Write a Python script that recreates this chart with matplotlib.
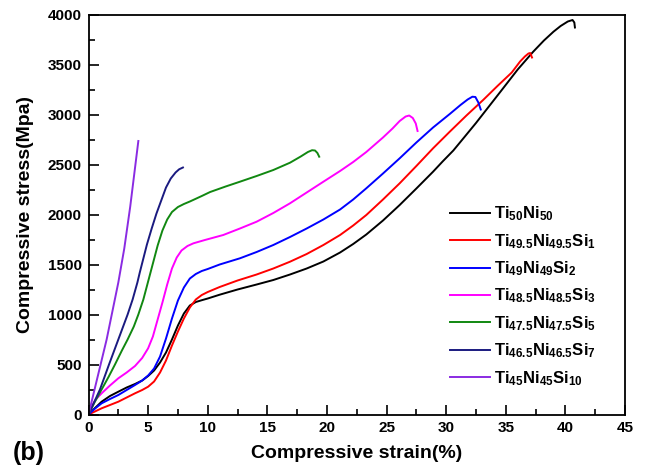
import numpy as np
import matplotlib
matplotlib.use('Agg')
import matplotlib.pyplot as plt
from matplotlib.ticker import MultipleLocator

plt.rcParams['font.family'] = ['Liberation Sans', 'DejaVu Sans']
plt.rcParams['font.weight'] = 'bold'
plt.rcParams['mathtext.fontset'] = 'custom'
plt.rcParams['mathtext.rm'] = 'Liberation Sans:bold'
plt.rcParams['mathtext.bf'] = 'Liberation Sans:bold'
plt.rcParams['mathtext.default'] = 'rm'

# strain (%) / stress (MPa)
x_50 = [0, 0.5, 1.1, 1.8, 2.5, 3.2, 3.9, 4.5, 5.0, 5.5, 6.0, 6.5, 7.0, 7.5, 8.0, 8.5,
        9.0, 9.5, 10.0, 11.0, 12.5, 14.1, 15.5, 16.9, 18.3, 19.7, 21.1, 22.2, 23.3,
        24.7, 26.1, 27.5, 28.9, 29.7, 30.6, 31.5, 32.5, 34.5, 36.0, 37.3, 38.2, 39.0,
        39.6, 40.2, 40.6, 40.75, 40.8]
y_50 = [0, 60, 128, 185, 228, 270, 305, 340, 385, 440, 520, 620, 750, 890, 1010, 1090,
        1125, 1143, 1160, 1198, 1250, 1300, 1345, 1400, 1460, 1530, 1620, 1705, 1800,
        1940, 2095, 2260, 2428, 2530, 2640, 2770, 2915, 3220, 3450, 3628, 3740, 3828,
        3885, 3930, 3945, 3920, 3870]

x_si1 = [0, 0.5, 1.1, 1.8, 2.5, 3.2, 3.9, 4.5, 5.0, 5.5, 6.0, 6.5, 7.0, 7.5, 8.0, 8.5,
         9.0, 9.5, 10.0, 11.0, 12.5, 14.1, 15.5, 16.9, 18.3, 19.7, 21.1, 22.2, 23.3,
         24.7, 26.1, 27.5, 28.9, 30.3, 31.7, 33.1, 34.3, 35.5, 36.2, 36.6, 36.9, 37.05,
         37.2]
y_si1 = [0, 28, 62, 95, 128, 170, 212, 245, 278, 330, 420, 540, 690, 830, 960, 1070,
         1150, 1195, 1225, 1275, 1340, 1400, 1460, 1528, 1605, 1695, 1795, 1890, 1995,
         2150, 2312, 2485, 2662, 2828, 2990, 3145, 3285, 3420, 3530, 3580, 3610, 3615,
         3570]

x_si2 = [0, 0.5, 1.1, 1.8, 2.5, 3.2, 3.9, 4.5, 5.0, 5.5, 6.0, 6.5, 7.0, 7.5, 8.0, 8.5,
         9.0, 9.5, 10.0, 11.0, 12.7, 14.1, 15.5, 16.9, 18.3, 19.7, 21.1, 22.2, 23.3,
         24.7, 26.1, 27.5, 28.9, 30.3, 31.2, 31.8, 32.2, 32.45, 32.7, 32.9]
y_si2 = [0, 55, 112, 155, 195, 245, 295, 340, 390, 460, 580, 760, 960, 1140, 1270, 1360,
         1405, 1435, 1455, 1500, 1562, 1625, 1695, 1775, 1860, 1950, 2050, 2150, 2262,
         2410, 2562, 2720, 2870, 3005, 3095, 3150, 3178, 3175, 3120, 3050]

x_si3 = [0, 0.3, 0.6, 1.1, 1.8, 2.5, 3.2, 3.9, 4.5, 5.0, 5.4, 5.8, 6.2, 6.6, 7.0, 7.4,
         7.8, 8.3, 8.8, 9.76, 11.3, 12.7, 14.1, 15.5, 16.9, 18.3, 19.7, 21.1, 22.2,
         23.3, 24.7, 25.5, 26.1, 26.6, 26.9, 27.2, 27.45, 27.6]
y_si3 = [0, 90, 150, 212, 290, 362, 420, 485, 565, 662, 780, 950, 1120, 1300, 1460, 1570,
         1640, 1685, 1712, 1745, 1795, 1860, 1928, 2015, 2112, 2220, 2328, 2435, 2525,
         2625, 2770, 2860, 2935, 2980, 2990, 2965, 2910, 2835]

x_si5 = [0, 0.5, 1.1, 1.7, 2.22, 2.8, 3.28, 3.8, 4.18, 4.6, 5.0, 5.4, 5.8, 6.2, 6.6,
         7.0, 7.5, 8.0, 8.5, 9.5, 10.2, 11.5, 12.7, 14.1, 15.5, 16.9, 17.8, 18.4, 18.75,
         19.0, 19.2, 19.35]
y_si5 = [0, 120, 250, 380, 500, 640, 750, 880, 1000, 1150, 1330, 1510, 1690, 1840, 1950,
         2025, 2075, 2105, 2130, 2185, 2225, 2280, 2328, 2385, 2445, 2518, 2580, 2625,
         2643, 2640, 2615, 2578]

x_si7 = [0, 0.5, 0.96, 1.72, 2.5, 3.28, 3.7, 4.1, 4.3, 4.6, 4.9, 5.3, 5.7, 6.1, 6.5,
         6.9, 7.3, 7.6, 7.92]
y_si7 = [0, 130, 250, 500, 750, 1000, 1150, 1320, 1420, 1560, 1700, 1860, 2010, 2140,
         2270, 2360, 2420, 2452, 2470]

x_si10 = [0, 1.52, 2.5, 3.0, 3.5, 4.18]
y_si10 = [0, 750, 1320, 1660, 2080, 2735]

labels = [r'Ti$_{50}$Ni$_{50}$',
          r'Ti$_{49.5}$Ni$_{49.5}$Si$_{1}$',
          r'Ti$_{49}$Ni$_{49}$Si$_{2}$',
          r'Ti$_{48.5}$Ni$_{48.5}$Si$_{3}$',
          r'Ti$_{47.5}$Ni$_{47.5}$Si$_{5}$',
          r'Ti$_{46.5}$Ni$_{46.5}$Si$_{7}$',
          r'Ti$_{45}$Ni$_{45}$Si$_{10}$']
colors = ['black', '#ff0000', '#0000ff', '#ff00ff', '#118811', '#1a1a80', '#8a2be2']
curves = [(x_50, y_50), (x_si1, y_si1), (x_si2, y_si2), (x_si3, y_si3),
          (x_si5, y_si5), (x_si7, y_si7), (x_si10, y_si10)]

xticks = [0, 5, 10, 15, 20, 25, 30, 35, 40, 45]
yticks = [0, 500, 1000, 1500, 2000, 2500, 3000, 3500, 4000]

fig = plt.figure(figsize=(6.47, 4.68), dpi=100)
ax = fig.add_axes([0.1368, 0.1143, 0.8292, 0.8547])

for (xs, ys), c, lab in zip(curves, colors, labels):
    ax.plot(xs, ys, color=c, lw=1.4, label=lab, solid_joinstyle='round')

ax.set_xticks(xticks)
ax.set_xticklabels([str(t) for t in xticks], fontsize=11, fontweight='bold')
ax.set_yticks(yticks)
ax.set_yticklabels([str(t) for t in yticks], fontsize=11, fontweight='bold')
ax.xaxis.set_minor_locator(MultipleLocator(2.5))
ax.yaxis.set_minor_locator(MultipleLocator(250))
ax.tick_params(which='both', direction='in', top=False, right=False, width=1.2)
ax.tick_params(which='major', length=7, pad=5)
ax.tick_params(which='minor', length=4)
ax.set_xlim(0, 45)
ax.set_ylim(0, 4000)
for sp in ax.spines.values():
    sp.set_linewidth(1.3)

ax.set_xlabel('Compressive strain(%)', fontsize=14, fontweight='bold', va='center')
ax.set_ylabel('Compressive stress(Mpa)', fontsize=14, fontweight='bold', va='center')
ax.xaxis.set_label_coords(0.5, -0.097)
ax.yaxis.set_label_coords(-0.117, 0.5)

fig.text(0.02, 0.032, '(b)', fontsize=18, fontweight='bold', va='center')

ax.legend(loc='center left', bbox_to_anchor=(0.674, 0.296), frameon=False,
          fontsize=12, handlelength=2.4, handletextpad=0.25, labelspacing=0.52,
          borderpad=0, borderaxespad=0)

fig.savefig('out.png', dpi=100)
